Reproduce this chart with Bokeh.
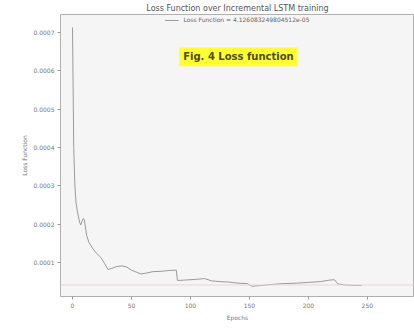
from bokeh.plotting import figure
from bokeh.models import Range1d, Label, Span, FixedTicker, PrintfTickFormatter, Legend, LegendItem
from bokeh.embed import file_html
from bokeh.resources import INLINE

epochs = [0, 1, 2, 3, 4, 6, 7, 9, 10, 12, 14, 17, 20, 24, 27, 30, 33, 37, 42, 46,
          50, 54, 58, 62, 68, 75, 82, 88, 89, 95, 105, 112, 118, 125, 132, 140,
          148, 152, 160, 170, 180, 190, 200, 210, 218, 222, 225, 232, 240, 245]
loss = [0.000713, 0.000400, 0.000300, 0.000255, 0.000235, 0.000205, 0.000198,
        0.000215, 0.000212, 0.000170, 0.000152, 0.000137, 0.000125, 0.000113,
        0.000098, 0.000082, 0.000084, 0.000089, 0.000091, 0.000088, 0.000080,
        0.000075, 0.000070, 0.000072, 0.000076, 0.000077, 0.000079, 0.000080,
        0.000053, 0.000054, 0.000056, 0.000058, 0.000052, 0.000050, 0.000049,
        0.000046, 0.000045, 0.000038, 0.000040, 0.000043, 0.000045, 0.000046,
        0.000048, 0.000050, 0.000054, 0.000055, 0.000044, 0.000041, 0.000040,
        0.000040]
final_loss = 4.126083249804512e-05
x_ticks = [0, 50, 100, 150, 200, 250]
y_ticks = [0.0001, 0.0002, 0.0003, 0.0004, 0.0005, 0.0006, 0.0007]
title_text = "Loss Function over Incremental LSTM training"
legend_text = "Loss Function = 4.126083249804512e-05"
fig_label = "Fig. 4 Loss function"

FONT = "DejaVu Sans"

p = figure(frame_width=354, frame_height=282, output_backend="svg", toolbar_location=None,
           x_range=Range1d(-10.2, 290), y_range=Range1d(0.0000112, 0.000747),
           min_border_left=60, min_border_right=0, min_border_top=7, min_border_bottom=4)
p.title.text = title_text
p.title.align = "center"
p.title.text_font = FONT
p.title.text_font_size = "8px"
p.title.text_font_style = "normal"
p.title.text_color = "#555555"
p.title.standoff = 3
p.title.offset = 0

p.background_fill_color = "#f5f5f5"
p.border_fill_color = "white"
p.outline_line_color = "#b0b0b0"
p.outline_line_width = 1
p.xgrid.grid_line_color = None
p.ygrid.grid_line_color = None

for ax in (p.xaxis[0], p.yaxis[0]):
    ax.axis_line_color = None
    ax.major_tick_line_color = "#999999"
    ax.major_tick_in = 0
    ax.major_tick_out = 3
    ax.minor_tick_line_color = None
    ax.major_label_text_font = FONT
    ax.major_label_text_font_size = "6px"
    ax.major_label_text_color = "#777777"
    ax.axis_label_text_font = FONT
    ax.axis_label_text_font_size = "6px"
    ax.axis_label_text_font_style = "normal"
    ax.axis_label_text_color = "#777777"
    ax.major_label_standoff = 3
    ax.axis_label_standoff = 3

p.xaxis.ticker = FixedTicker(ticks=x_ticks)
p.yaxis.ticker = FixedTicker(ticks=y_ticks)
p.yaxis.formatter = PrintfTickFormatter(format="%.4f")
p.xaxis.axis_label = "Epochs"
p.yaxis.axis_label = "Loss Function"

p.add_layout(Span(location=final_loss, dimension="width", line_color="#e6d6d6", line_width=1))

r = p.line(epochs, loss, line_color="#9a9a9a", line_width=1)

legend = Legend(items=[LegendItem(label=legend_text, renderers=[r])], location="top_center",
                background_fill_alpha=0, border_line_color=None,
                label_text_font=FONT, label_text_font_size="6px", label_text_color="#666666",
                glyph_width=14, glyph_height=6, padding=2, margin=2, label_height=6)
p.add_layout(legend)

p.add_layout(Label(x=140.7, y=0.000637, text=fig_label, text_align="center", text_baseline="middle",
                   text_font=FONT, text_font_size="10px", text_font_style="bold",
                   text_color="#4d4d10", background_fill_color="#ffff33", padding=4))

open("out.html", "w").write(file_html(p, INLINE))
